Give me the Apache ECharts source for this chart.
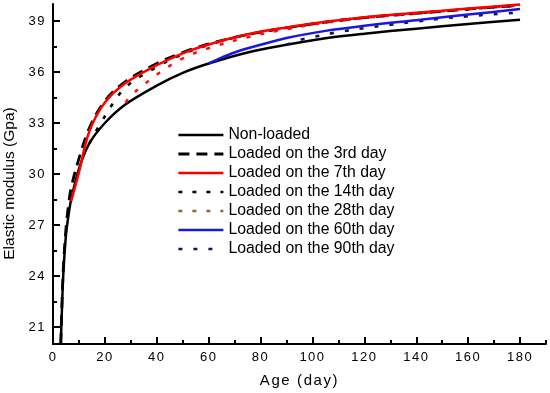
<!DOCTYPE html>
<html><head><meta charset="utf-8">
<script src="https://cdn.jsdelivr.net/npm/echarts@6/dist/echarts.min.js"></script>
<style>html,body{margin:0;padding:0;background:#fff}#c{width:550px;height:393px}</style>
</head><body><div id="c"></div>
<script>
// ---- data ----
const xMajorTicks = [0,20,40,60,80,100,120,140,160,180];
const xMinorTicks = [10,30,50,70,90,110,130,150,170,190];
const yMajorTicks = [21,24,27,30,33,36,39];
const yMinorTicks = [22.5,25.5,28.5,31.5,34.5,37.5];

const nonDays  = [3,3.5,4,5,6,7,10,14,20,28,40,50,60,75,90,105,120,140,160,180];
const nonVals  = [20.0,22.3,24.2,26.4,27.6,28.5,30.3,31.8,33.0,34.1,35.2,35.95,36.5,37.15,37.6,37.98,38.25,38.55,38.82,39.08];

const d3Days   = [3,3.5,4,5,6,7,10,14,20,28,40,50,60,75,90,105,120,140,160,180];
const d3Vals   = [20.0,22.6,24.5,26.8,28.2,29.2,30.9,32.7,34.3,35.45,36.5,37.15,37.65,38.2,38.6,38.93,39.2,39.45,39.7,39.93];

const d7Days   = [7,10,14,20,28,40,50,60,75,90,105,120,140,160,180];
const d7Vals   = [28.4,30.1,32.5,34.2,35.35,36.4,37.1,37.62,38.22,38.62,38.95,39.22,39.48,39.73,39.97];

const d14Days  = [14,20,28,40,50,60,75,90,105,120,140,160,180];
const d14Vals  = [31.8,33.4,35.1,36.3,37.05,37.6,38.2,38.6,38.93,39.2,39.45,39.7,39.93];

const d28Days  = [28,30,35,40,50,60,75,90,105,120,140,160,180];
const d28Vals  = [34.2,34.6,35.25,35.85,36.8,37.4,38.05,38.52,38.9,39.18,39.45,39.7,39.93];

const d60Days  = [60,65,70,80,90,105,120,140,160,180];
const d60Vals  = [36.5,36.85,37.15,37.6,38.0,38.42,38.72,39.05,39.38,39.7];

const d90Days  = [90,95,100,110,120,130,140,150,160,170,180];
const d90Vals  = [37.6,37.88,38.05,38.35,38.58,38.78,38.97,39.15,39.28,39.4,39.5];

const names = ['Non-loaded','Loaded on the 3rd day','Loaded on the 7th day','Loaded on the 14th day',
               'Loaded on the 28th day','Loaded on the 60th day','Loaded on the 90th day'];

// ---- letter spacing to mimic the wide tracking of the original ----
const SPACING = [[/(^|\s)13px\s/, '1.5px'], [/(^|\s)15px\s/, '1.6px']];
function spFor(font){ for (const [re, v] of SPACING) if (re.test(font)) return v; return '0px'; }
(function(){
  const proto = CanvasRenderingContext2D.prototype;
  const of = proto.fillText;
  proto.fillText = function(t,x,y,m){
    if ('letterSpacing' in this) this.letterSpacing = spFor(this.font);
    return m === undefined ? of.call(this,t,x,y) : of.call(this,t,x,y,m);
  };
  const mc = document.createElement('canvas').getContext('2d');
  if (echarts.setPlatformAPI) {
    echarts.setPlatformAPI({ measureText: function(text, font){
      mc.font = font || '12px sans-serif';
      if ('letterSpacing' in mc) mc.letterSpacing = spFor(mc.font);
      return mc.measureText(text);
    }});
  }
})();

function zip(a,b){ return a.map((v,i)=>[v,b[i]]); }
const FONT = 'Liberation Sans';

function series(name, days, vals, color, type, width, z){
  return { name, type:'line', data: zip(days, vals), symbol:'none', smooth:0.35,
    lineStyle:{ color, width, type, cap:'butt' }, itemStyle:{ color }, z, animation:false };
}

const chart = echarts.init(document.getElementById('c'), null, {renderer:'canvas'});
chart.setOption({
  animation:false,
  backgroundColor:'#fff',
  grid:{ left:53, right:4, top:4, bottom:49, containLabel:false, outerBoundsMode:'none' },
  legend:{
    orient:'vertical', left:177, top:127, padding:0, itemGap:3, itemWidth:45, itemHeight:14,
    textStyle:{ fontFamily:FONT, fontSize:15.8, color:'#000' },
    itemStyle:{ opacity:0, color:'rgba(0,0,0,0)', borderWidth:0 },
    lineStyle:{ width:'inherit' },
    data:[
      {name:names[0]},{name:names[1]},{name:names[2]},{name:names[3]},
      {name:names[4], lineStyle:{color:'#8c6a30', width:'inherit'}},
      {name:names[5]},{name:names[6]}
    ]
  },
  xAxis:[{
    type:'value', min:0, max:190, position:'bottom',
    name:'Age (day)', nameLocation:'middle', nameGap:29,
    nameTextStyle:{ fontFamily:FONT, fontSize:15, color:'#000' },
    axisLine:{ onZero:false, lineStyle:{ color:'#000', width:2 } },
    axisTick:{ inside:true, length:7, lineStyle:{ color:'#000', width:2 }, customValues:xMajorTicks },
    axisLabel:{ fontFamily:FONT, fontSize:13, color:'#000', margin:6, customValues:xMajorTicks },
    splitLine:{ show:false }
  },{
    type:'value', min:0, max:190, position:'bottom', gridIndex:0,
    axisLine:{ show:false, onZero:false },
    axisTick:{ inside:true, length:4, lineStyle:{ color:'#000', width:2 }, customValues:xMinorTicks },
    axisLabel:{ show:false }, splitLine:{ show:false }
  }],
  yAxis:[{
    type:'value', min:20, max:40, position:'left',
    name:'Elastic modulus (Gpa)', nameLocation:'middle', nameGap:35,
    nameTextStyle:{ fontFamily:FONT, fontSize:15.5, color:'#000', padding:[0,19,0,0] },
    axisLine:{ onZero:false, lineStyle:{ color:'#000', width:2 } },
    axisTick:{ inside:true, length:7, lineStyle:{ color:'#000', width:2 }, customValues:yMajorTicks },
    axisLabel:{ fontFamily:FONT, fontSize:13, color:'#000', margin:7, customValues:yMajorTicks },
    splitLine:{ show:false }
  },{
    type:'value', min:20, max:40, position:'left', gridIndex:0,
    axisLine:{ show:false, onZero:false },
    axisTick:{ inside:true, length:4, lineStyle:{ color:'#000', width:2 }, customValues:yMinorTicks },
    axisLabel:{ show:false }, splitLine:{ show:false }
  }],
  series:[
    series(names[0], nonDays, nonVals, '#000000', 'solid', 2.5, 2),
    series(names[1], d3Days, d3Vals, '#000000', [11,7], 2.8, 3),
    series(names[3], d14Days, d14Vals, '#000000', [4,10], 2.6, 4),
    series(names[4], d28Days, d28Vals, '#ff1010', [4,10], 2.6, 5),
    series(names[6], d90Days, d90Vals, '#10106e', [4,11], 2.6, 6),
    series(names[5], d60Days, d60Vals, '#1818e0', 'solid', 2.5, 7),
    series(names[2], d7Days, d7Vals, '#ff0000', 'solid', 2.5, 8)
  ]
});
</script></body></html>
